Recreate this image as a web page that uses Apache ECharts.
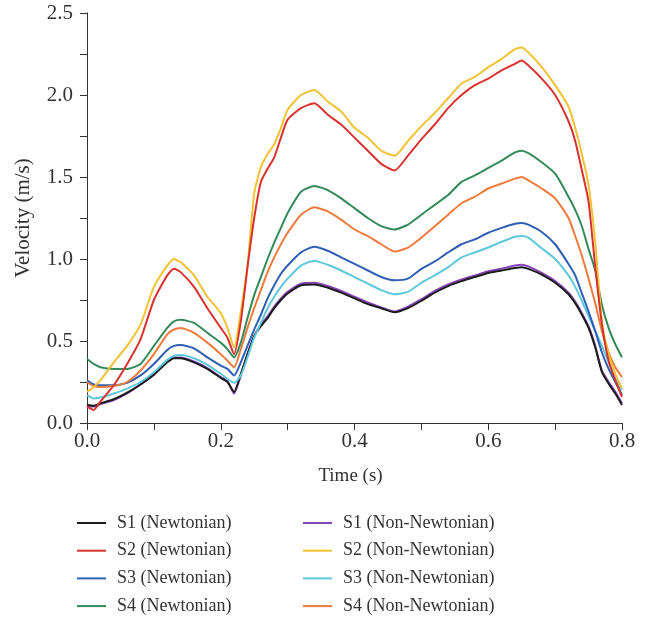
<!DOCTYPE html>
<html><head><meta charset="utf-8">
<script src="https://cdn.jsdelivr.net/npm/echarts@6/dist/echarts.min.js"></script>
<style>html,body{margin:0;padding:0;background:#fff}#c{width:650px;height:618px}</style>
</head><body><div id="c"></div>
<script>
const times = [0,0.01,0.02,0.04,0.06,0.08,0.1,0.12,0.13,0.14,0.16,0.18,0.2,0.21,0.22,0.23,0.24,0.25,0.26,0.27,0.28,0.29,0.3,0.32,0.34,0.36,0.38,0.4,0.42,0.44,0.46,0.48,0.5,0.52,0.54,0.56,0.58,0.6,0.62,0.64,0.65,0.66,0.68,0.7,0.72,0.73,0.74,0.75,0.76,0.77,0.78,0.79,0.8];

const s1N  = [0.11,0.105,0.12,0.145,0.185,0.235,0.295,0.37,0.395,0.395,0.37,0.33,0.275,0.25,0.19,0.30,0.42,0.53,0.59,0.64,0.70,0.75,0.79,0.84,0.845,0.825,0.795,0.76,0.725,0.70,0.675,0.70,0.745,0.795,0.835,0.865,0.89,0.915,0.93,0.945,0.95,0.94,0.905,0.855,0.785,0.73,0.66,0.58,0.46,0.31,0.24,0.18,0.11];
const s2N  = [0.10,0.08,0.13,0.23,0.36,0.51,0.75,0.90,0.94,0.92,0.83,0.70,0.58,0.52,0.42,0.62,0.95,1.25,1.47,1.55,1.62,1.74,1.85,1.92,1.95,1.88,1.82,1.74,1.66,1.58,1.54,1.63,1.73,1.82,1.92,2.00,2.06,2.10,2.15,2.19,2.21,2.18,2.10,2.00,1.84,1.72,1.54,1.35,0.95,0.60,0.38,0.26,0.16];
const s3N  = [0.26,0.235,0.23,0.23,0.245,0.29,0.36,0.445,0.47,0.475,0.455,0.40,0.35,0.33,0.29,0.37,0.47,0.57,0.66,0.76,0.84,0.91,0.96,1.04,1.075,1.05,1.01,0.97,0.93,0.89,0.87,0.88,0.94,0.985,1.04,1.09,1.12,1.16,1.19,1.215,1.22,1.21,1.165,1.09,0.97,0.90,0.79,0.68,0.56,0.43,0.33,0.25,0.17];
const s4N  = [0.39,0.36,0.34,0.33,0.33,0.36,0.47,0.58,0.62,0.63,0.61,0.55,0.49,0.45,0.40,0.49,0.64,0.78,0.89,1.00,1.10,1.19,1.28,1.41,1.445,1.42,1.37,1.31,1.25,1.20,1.18,1.21,1.27,1.33,1.39,1.47,1.51,1.555,1.60,1.65,1.66,1.645,1.59,1.52,1.38,1.30,1.20,1.06,0.93,0.72,0.58,0.48,0.40];
const s1NN = [0.10,0.10,0.115,0.14,0.18,0.235,0.295,0.375,0.40,0.40,0.375,0.335,0.28,0.255,0.18,0.29,0.42,0.53,0.60,0.65,0.71,0.76,0.80,0.85,0.855,0.835,0.805,0.77,0.735,0.705,0.68,0.71,0.755,0.805,0.845,0.875,0.90,0.925,0.94,0.96,0.965,0.955,0.915,0.865,0.795,0.74,0.67,0.59,0.47,0.32,0.25,0.19,0.12];
const s2NN = [0.19,0.22,0.26,0.37,0.47,0.60,0.83,0.96,1.00,0.98,0.90,0.77,0.67,0.58,0.46,0.68,0.96,1.40,1.56,1.64,1.70,1.80,1.91,2.00,2.03,1.96,1.90,1.80,1.74,1.66,1.63,1.72,1.81,1.89,1.98,2.07,2.11,2.17,2.22,2.28,2.29,2.26,2.17,2.06,1.93,1.80,1.64,1.45,1.10,0.62,0.42,0.30,0.21];
const s3NN = [0.17,0.15,0.155,0.18,0.21,0.25,0.31,0.385,0.41,0.415,0.395,0.355,0.30,0.27,0.245,0.29,0.40,0.52,0.61,0.70,0.77,0.83,0.88,0.96,0.99,0.965,0.93,0.89,0.85,0.81,0.785,0.80,0.855,0.90,0.95,1.01,1.04,1.07,1.105,1.136,1.14,1.13,1.065,1.00,0.90,0.83,0.745,0.65,0.56,0.47,0.37,0.27,0.20];
const s4NN = [0.25,0.225,0.22,0.225,0.25,0.32,0.42,0.54,0.57,0.58,0.55,0.49,0.42,0.38,0.34,0.45,0.58,0.70,0.81,0.92,1.01,1.09,1.16,1.27,1.315,1.29,1.24,1.18,1.14,1.09,1.045,1.07,1.13,1.20,1.27,1.34,1.38,1.43,1.46,1.49,1.50,1.48,1.43,1.37,1.25,1.14,1.02,0.88,0.73,0.56,0.43,0.34,0.28];

const names = ['S1 (Newtonian)','S2 (Newtonian)','S3 (Newtonian)','S4 (Newtonian)','S1 (Non-Newtonian)','S2 (Non-Newtonian)','S3 (Non-Newtonian)','S4 (Non-Newtonian)'];
const colors = ['#1c1c1c','#d8322f','#2f5fb3','#338a5a','#8646b8','#f2c233','#5ec8dc','#ee7a3c'];
const values = [s1N,s2N,s3N,s4N,s1NN,s2NN,s3NN,s4NN];
const xTicks = [0,0.2,0.4,0.6,0.8];
const yTicks = [0,0.5,1.0,1.5,2.0,2.5];

const FONT = '"Liberation Serif","DejaVu Serif",serif';
const drawOrder = [4,0,6,2,7,3,5,1];
const series = drawOrder.map(i => ({
  name: names[i], type: 'line', symbol: 'none', smooth: 0.2,
  lineStyle: {color: colors[i], width: 2}, itemStyle: {color: colors[i]},
  data: times.map((t, k) => [t, values[i][k]])
}));

const legendBase = {
  orient: 'vertical', top: 509, height: 110, itemWidth: 29, itemHeight: 2, itemGap: 9.7,
  icon: 'rect',
  textStyle: {fontFamily: FONT, fontSize: 18, lineHeight: 18, color: '#333', padding: [0,0,0,6]}
};
const chart = echarts.init(document.getElementById('c'), null, {renderer: 'canvas'});
chart.setOption({
  animation: false,
  backgroundColor: '#fff',
  grid: {left: 87, right: 28, top: 13, bottom: 195, containLabel: false},
  legend: [
    Object.assign({}, legendBase, {left: 72, data: names.slice(0,4)}),
    Object.assign({}, legendBase, {left: 298, data: names.slice(4)})
  ],
  xAxis: {
    type: 'value', min: xTicks[0], max: xTicks[xTicks.length-1], interval: 0.2,
    name: 'Time (s)', nameLocation: 'middle', nameGap: 44,
    nameTextStyle: {fontFamily: FONT, fontSize: 19, color: '#333', padding: [0, 8, 0, 0]},
    axisLine: {onZero: false, lineStyle: {color: '#333', width: 1}},
    axisTick: {show: true, length: 7, lineStyle: {color: '#333'}},
    minorTick: {show: true, splitNumber: 2, length: 7, lineStyle: {color: '#333'}},
    splitLine: {show: false},
    axisLabel: {fontFamily: FONT, fontSize: 21, color: '#333', margin: 8, formatter: v => v.toFixed(1)}
  },
  yAxis: {
    type: 'value', min: yTicks[0], max: yTicks[yTicks.length-1], interval: 0.5,
    name: 'Velocity (m/s)', nameLocation: 'middle', nameGap: 53, nameRotate: 90,
    nameTextStyle: {fontFamily: FONT, fontSize: 21, color: '#333'},
    axisLine: {show: true, lineStyle: {color: '#333', width: 1}},
    axisTick: {show: true, length: 7, lineStyle: {color: '#333'}},
    minorTick: {show: true, splitNumber: 2, length: 7, lineStyle: {color: '#333'}},
    splitLine: {show: false},
    axisLabel: {fontFamily: FONT, fontSize: 21, color: '#333', margin: 14, formatter: v => v.toFixed(1)}
  },
  series: series
});
</script></body></html>
